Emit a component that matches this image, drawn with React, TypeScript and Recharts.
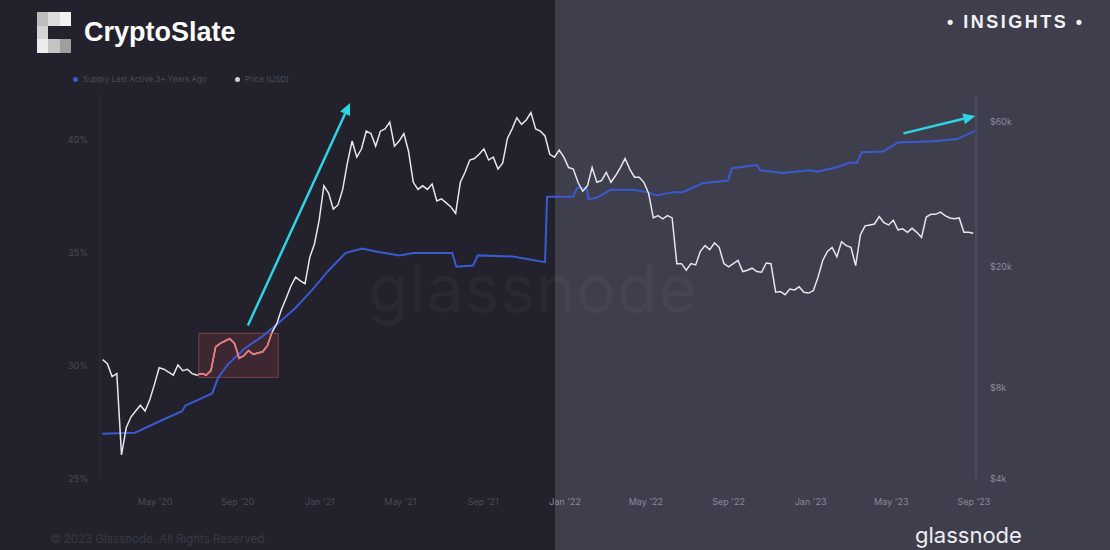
import React from 'react';
import {
  LineChart,
  Line,
  XAxis,
  YAxis,
  ReferenceArea,
  ReferenceLine,
} from 'recharts';

// weekly BTC price (USD, thousands), first point on priceStart
const priceStart = '2020-02-13';
const priceK = [
  9.9, 9.6, 8.7, 8.9, 4.8, 5.9, 6.4, 6.7, 7.0, 6.7,
  7.3, 8.2, 9.3, 9.2, 9.0, 8.8, 9.5, 9.1, 9.2, 8.9,
  8.8, 8.9, 8.8, 9.1, 10.9, 11.2, 11.4, 11.6, 11.2, 10.0,
  10.2, 10.6, 10.3, 10.4, 10.5, 11.0, 12.2, 13.0, 14.5, 15.8,
  17.3, 18.5, 18.0, 17.6, 21.5, 23.8, 28.5, 37.0, 35.0, 31.0,
  32.0, 36.0, 44.0, 52.0, 46.0, 49.0, 56.0, 55.0, 50.0, 56.0,
  57.0, 60.0, 50.0, 52.0, 55.0, 48.0, 38.0, 36.0, 37.0, 36.0,
  37.5, 33.0, 33.5, 32.5, 31.5, 30.0, 38.0, 41.0, 45.0, 45.5,
  47.0, 49.0, 45.0, 46.0, 42.0, 44.0, 53.0, 57.0, 62.0, 59.0,
  61.0, 64.5, 57.0, 56.0, 54.0, 47.0, 46.0, 48.5, 46.0, 42.5,
  42.0, 38.0, 35.5, 37.0, 42.5, 38.0, 38.5, 41.0, 38.0, 40.0,
  42.5, 45.5, 42.0, 39.5, 39.5, 38.0, 35.0, 29.0, 29.5, 28.8,
  29.5, 29.0, 20.5, 20.5, 19.5, 20.5, 20.3, 22.5, 23.5, 22.8,
  24.0, 23.2, 20.5, 20.0, 20.5, 21.0, 19.3, 19.5, 19.8, 19.3,
  19.2, 20.6, 20.5, 16.5, 16.6, 16.2, 16.9, 16.8, 17.2, 16.5,
  16.4, 16.7, 18.5, 21.0, 22.5, 23.2, 21.6, 24.2, 23.5, 23.2,
  20.2, 25.5, 27.3, 27.5, 27.7, 29.3, 28.0, 27.5, 28.5, 26.5,
  26.7, 26.0, 26.8, 26.0, 25.0, 29.2, 29.8, 29.8, 30.3, 29.5,
  29.0, 28.8, 29.0, 26.0, 26.0, 25.8,
];

// supply last active 3+ years ago (%)
const supplyDates = [
  '2020-02-12', '2020-04-01', '2020-05-11', '2020-06-10', '2020-06-15',
  '2020-07-04', '2020-07-25', '2020-08-03', '2020-08-18', '2020-09-12',
  '2020-10-07', '2020-10-31', '2020-11-25', '2020-12-20', '2021-01-13',
  '2021-02-08', '2021-03-05', '2021-03-29', '2021-04-30', '2021-05-20',
  '2021-07-17', '2021-07-23', '2021-08-17', '2021-08-24', '2021-10-15',
  '2021-12-02', '2021-12-05', '2022-01-13', '2022-01-19', '2022-02-02',
  '2022-02-05', '2022-02-17', '2022-03-09', '2022-04-12', '2022-05-03',
  '2022-05-17', '2022-06-10', '2022-06-25', '2022-07-25', '2022-08-31',
  '2022-09-06', '2022-10-13', '2022-10-18', '2022-11-21', '2022-12-31',
  '2023-01-10', '2023-02-09', '2023-02-28', '2023-03-11', '2023-03-18',
  '2023-04-19', '2023-05-11', '2023-07-02', '2023-08-07', '2023-09-02',
];
const supplyPct = [
  27.0, 27.05, 27.6, 28.0, 28.25,
  28.5, 28.8, 29.5, 30.1, 30.8,
  31.3, 31.9, 32.55, 33.35, 34.2,
  35.0, 35.2, 35.05, 34.9, 35.0,
  35.0, 34.4, 34.45, 34.9, 34.85,
  34.6, 37.5, 37.5, 37.9, 37.85,
  37.4, 37.45, 37.8, 37.8, 37.7,
  37.55, 37.7, 37.7, 38.1, 38.2,
  38.76, 38.9, 38.67, 38.55, 38.67,
  38.6, 38.8, 39.0, 39.0, 39.47,
  39.5, 39.9, 39.95, 40.05, 40.4,
];

const tickDates = [
  '2020-05-01', '2020-09-01', '2021-01-01', '2021-05-01', '2021-09-01', '2022-01-01',
  '2022-05-01', '2022-09-01', '2023-01-01', '2023-05-01', '2023-09-01',
];
const tickLabels = [
  "May '20", "Sep '20", "Jan '21", "May '21", "Sep '21", "Jan '22",
  "May '22", "Sep '22", "Jan '23", "May '23", "Sep '23",
];
const leftTicks = [25, 30, 35, 40];
const rightTicks = [4, 8, 20, 60];

// highlighted price stretch and annotation arrows (date, %)
const highlight = { from: '2020-07-02', to: '2020-10-22' };
const box = { from: '2020-07-05', to: '2020-10-31', low: 29.5, high: 31.45 };
const arrows = [
  { from: ['2020-09-16', 31.8], to: ['2021-02-15', 41.65] },
  { from: ['2023-05-19', 40.3], to: ['2023-09-03', 41.07] },
] as const;

const origin = Date.UTC(2020, 0, 1);
const toDay = (s: string) => {
  const [y, m, d] = s.split('-').map(Number);
  return Math.round((Date.UTC(y, m - 1, d) - origin) / 86400000);
};

const priceData = priceK.map((v, i) => ({ t: toDay(priceStart) + 7 * i, price: v }));
const hlData = priceData.filter(
  (p) => p.t >= toDay(highlight.from) && p.t <= toDay(highlight.to)
);
const supplyData = supplyDates.map((d, i) => ({ t: toDay(d), supply: supplyPct[i] }));
const ticks = tickDates.map(toDay);

const SPLIT = 555;
const FONT = 'Inter, "Liberation Sans", sans-serif';

const XTick = ({ x, y, payload }: any) => (
  <text
    x={x}
    y={y}
    dy={8}
    textAnchor="middle"
    fontSize={9}
    fontFamily={FONT}
    fill={x < SPLIT ? '#4b4a5a' : '#8a8999'}
  >
    {tickLabels[ticks.indexOf(payload.value)]}
  </text>
);

const Arrow = (props: any) => {
  const { x1, y1, x2, y2 } = props;
  const a = Math.atan2(y2 - y1, x2 - x1);
  const len = 12;
  const w = 5.5;
  const bx = x2 - len * Math.cos(a);
  const by = y2 - len * Math.sin(a);
  const px = -Math.sin(a) * w;
  const py = Math.cos(a) * w;
  return (
    <g>
      <line x1={x1} y1={y1} x2={bx} y2={by} stroke="#2fd3e4" strokeWidth={2.5} />
      <polygon
        points={`${x2},${y2} ${bx + px},${by + py} ${bx - px},${by - py}`}
        fill="#2fd3e4"
      />
    </g>
  );
};

const LegendItem = ({ color, label }: { color: string; label: string }) => (
  <span style={{ display: 'inline-flex', alignItems: 'center', marginRight: 28 }}>
    <span
      style={{
        width: 5,
        height: 5,
        borderRadius: 3,
        background: color,
        display: 'inline-block',
        marginRight: 5,
      }}
    />
    {label}
  </span>
);

const logoCells = [
  ['#bdbdbd', '#dcdcdc', '#f2f2f2'],
  ['#d4d4d4', null, null],
  ['#ececec', '#c4c4c4', '#9e9e9e'],
];

export default function App() {
  return (
    <div
      style={{
        position: 'absolute',
        left: 0,
        top: 0,
        width: 1110,
        height: 550,
        overflow: 'hidden',
        fontFamily: '"Liberation Sans", Arial, sans-serif',
      }}
    >
      <div style={{ position: 'absolute', left: 0, top: 0, width: SPLIT, height: 550, background: '#22212c' }} />
      <div style={{ position: 'absolute', left: SPLIT, top: 0, width: 1110 - SPLIT, height: 550, background: '#3f3e4c' }} />

      {/* watermark */}
      <div
        style={{
          position: 'absolute',
          left: 368,
          top: 248,
          fontSize: 66,
          fontFamily: FONT,
          color: 'rgba(255,255,255,0.035)',
          letterSpacing: 1,
        }}
      >
        glassnode
      </div>

      <div style={{ position: 'absolute', left: 0, top: 0 }}>
        <LineChart width={1110} height={550} margin={{ top: 95, right: 74, bottom: 41, left: 60 }}>
          <XAxis
            dataKey="t"
            type="number"
            domain={[39, 1342]}
            ticks={ticks}
            tick={<XTick />}
            axisLine={false}
            tickLine={false}
            tickSize={0}
            tickMargin={18}
            height={30}
            allowDataOverflow
          />
          <YAxis
            yAxisId="left"
            orientation="left"
            domain={[25, 42]}
            ticks={leftTicks}
            tickFormatter={(v) => `${v}%`}
            width={40}
            tickSize={0}
            tickMargin={12}
            tickLine={false}
            axisLine={{ stroke: '#2f2e3c' }}
            tick={{ fontSize: 9, fill: '#4b4a5a', fontFamily: FONT }}
            allowDataOverflow
          />
          <YAxis
            yAxisId="right"
            orientation="right"
            scale="log"
            domain={[4, 73.7]}
            ticks={rightTicks}
            tickFormatter={(v) => `$${v}k`}
            width={60}
            tickSize={0}
            tickMargin={14}
            tickLine={false}
            axisLine={{ stroke: '#5a596b' }}
            tick={{ fontSize: 9, fill: '#8a8999', fontFamily: FONT, textAnchor: 'start' }}
            allowDataOverflow
          />
          <ReferenceArea
            yAxisId="left"
            x1={toDay(box.from)}
            x2={toDay(box.to)}
            y1={box.low}
            y2={box.high}
            fill="#a8403f"
            fillOpacity={0.2}
            stroke="#b86060"
            strokeOpacity={0.55}
          />
          <Line
            yAxisId="left"
            data={supplyData}
            dataKey="supply"
            type="linear"
            stroke="#3a5ad2"
            strokeWidth={2}
            dot={false}
            isAnimationActive={false}
          />
          <Line
            yAxisId="right"
            data={priceData}
            dataKey="price"
            type="linear"
            stroke="#e6e6ee"
            strokeWidth={1.5}
            dot={false}
            isAnimationActive={false}
          />
          <Line
            yAxisId="right"
            data={hlData}
            dataKey="price"
            type="linear"
            stroke="#e77474"
            strokeWidth={1.6}
            dot={false}
            isAnimationActive={false}
          />
          {arrows.map((a, i) => (
            <ReferenceLine
              key={i}
              yAxisId="left"
              ifOverflow="visible"
              segment={[
                { x: toDay(a.from[0]), y: a.from[1] },
                { x: toDay(a.to[0]), y: a.to[1] },
              ]}
              shape={Arrow}
            />
          ))}
        </LineChart>
      </div>

      {/* legend */}
      <div
        style={{
          position: 'absolute',
          left: 73,
          top: 74,
          fontSize: 8,
          fontFamily: FONT,
          color: '#4d4c5c',
          display: 'flex',
        }}
      >
        <LegendItem color="#3a5ad2" label="Supply Last Active 3+ Years Ago" />
        <LegendItem color="#cfcfd8" label="Price (USD)" />
      </div>

      {/* header */}
      <div style={{ position: 'absolute', left: 37, top: 12 }}>
        {logoCells.map((row, r) =>
          row.map((c, k) =>
            c ? (
              <div
                key={`${r}-${k}`}
                style={{
                  position: 'absolute',
                  left: k * 11.3,
                  top: r * 13.7,
                  width: 11.3,
                  height: 13.7,
                  background: c,
                }}
              />
            ) : null
          )
        )}
      </div>
      <div
        style={{
          position: 'absolute',
          left: 84,
          top: 16,
          fontSize: 27,
          fontWeight: 700,
          color: '#ffffff',
          lineHeight: '32px',
        }}
      >
        CryptoSlate
      </div>
      <div
        style={{
          position: 'absolute',
          left: 947,
          top: 10,
          fontSize: 18,
          fontWeight: 700,
          color: '#f2f2f6',
          letterSpacing: 2.5,
          lineHeight: '24px',
        }}
      >
        • INSIGHTS •
      </div>

      {/* footer */}
      <div
        style={{
          position: 'absolute',
          left: 50,
          top: 532,
          fontSize: 11.5,
          fontFamily: FONT,
          color: '#3a3947',
          lineHeight: '14px',
        }}
      >
        © 2023 Glassnode. All Rights Reserved.
      </div>
      <div
        style={{
          position: 'absolute',
          left: 915,
          top: 522,
          fontSize: 22,
          fontFamily: FONT,
          color: '#ededf2',
          lineHeight: '26px',
        }}
      >
        glassnode
      </div>
    </div>
  );
}
